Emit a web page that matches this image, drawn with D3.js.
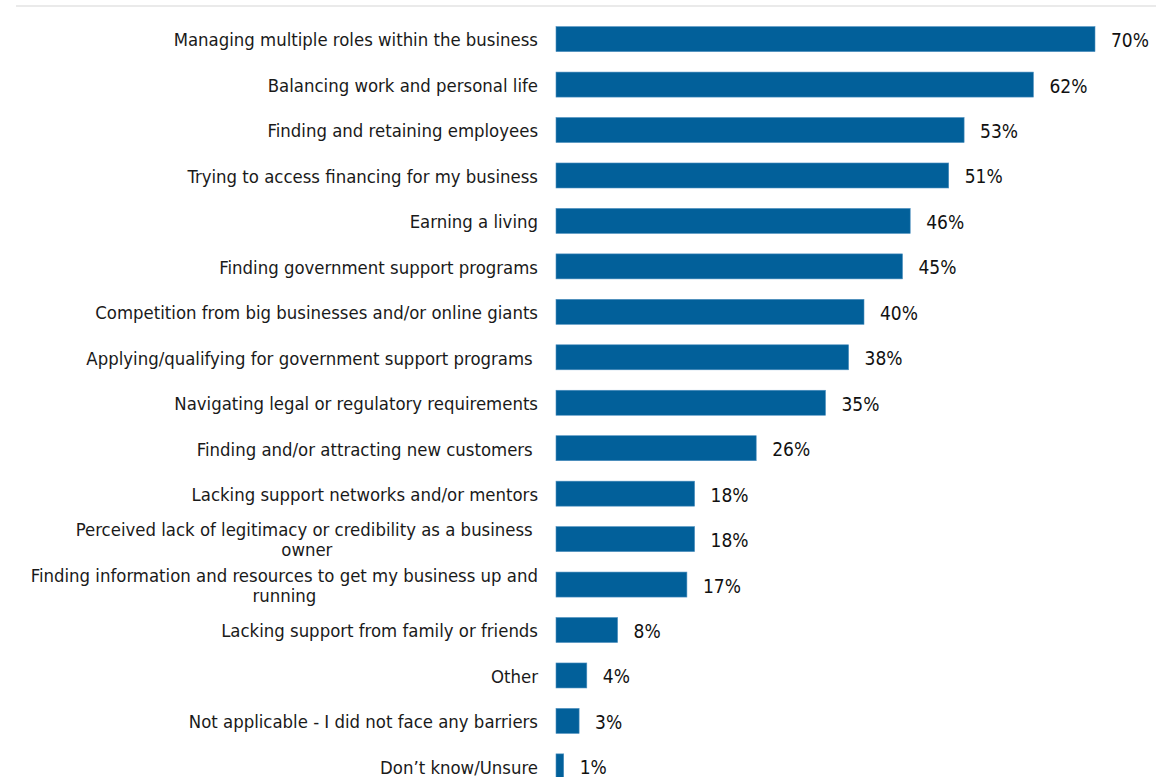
<!DOCTYPE html>
<html><head><meta charset="utf-8">
<script src="https://cdn.jsdelivr.net/npm/d3@7"></script>
<style>
  html, body { margin: 0; padding: 0; background: #ffffff; overflow: hidden; }
  svg { display: block; }
</style>
</head><body>
<svg id="chart" width="1156" height="777"></svg>
<script>
// Barriers faced by business owners (% of respondents)
const categories = [
  "Managing multiple roles within the business",
  "Balancing work and personal life",
  "Finding and retaining employees",
  "Trying to access financing for my business",
  "Earning a living",
  "Finding government support programs",
  "Competition from big businesses and/or online giants",
  "Applying/qualifying for government support programs ",
  "Navigating legal or regulatory requirements",
  "Finding and/or attracting new customers ",
  "Lacking support networks and/or mentors",
  "Perceived lack of legitimacy or credibility as a business \nowner",
  "Finding information and resources to get my business up and\nrunning",
  "Lacking support from family or friends",
  "Other",
  "Not applicable - I did not face any barriers",
  "Don\u2019t know/Unsure"
];
const values = [70, 62, 53, 51, 46, 45, 40, 38, 35, 26, 18, 18, 17, 8, 4, 3, 1];
const valueLabels = values.map(v => v + "%");

const width = 1156, height = 777;
const svg = d3.select("#chart");

const barColor = "#02609a";
const labelFont = "'DejaVu Sans Condensed', 'DejaVu Sans', sans-serif";

// Thin rule across the top
svg.append("line")
  .attr("x1", 16).attr("x2", width)
  .attr("y1", 6).attr("y2", 6)
  .attr("stroke", "#e3e3e3").attr("stroke-width", 1.5);

const x = d3.scaleLinear().domain([0, 70]).range([556, 1095]);
const y = d3.scaleBand()
  .domain(categories)
  .range([16.4, 789.1])
  .paddingInner(0.45)
  .paddingOuter(0.225);

// Bars
svg.append("g").selectAll("rect")
  .data(categories)
  .join("rect")
  .attr("x", x(0))
  .attr("y", d => y(d))
  .attr("width", (d, i) => x(values[i]) - x(0))
  .attr("height", y.bandwidth())
  .attr("fill", barColor)
  .attr("stroke", "#4d8fbf")
  .attr("stroke-width", 0.6);

// Category labels (right aligned; wrapped lines centred within their block)
const labelRight = 538;
const lineH = 20;
const labelG = svg.append("g")
  .style("font-family", labelFont)
  .style("font-size", "18.4px")
  .attr("fill", "#1a1a1a");

categories.forEach(cat => {
  const lines = cat.split("\n");
  const cy = y(cat) + y.bandwidth() / 2;
  const t = labelG.append("text").style("white-space", "pre");
  lines.forEach((ln, j) => {
    t.append("tspan").text(ln)
      .attr("y", cy + (j - (lines.length - 1) / 2) * lineH)
      .attr("dy", "0.4em");
  });
  if (lines.length === 1) {
    t.attr("text-anchor", "end");
    t.selectAll("tspan").attr("x", labelRight);
  } else {
    const spans = t.selectAll("tspan").nodes();
    const maxW = d3.max(spans, s => s.getComputedTextLength());
    const mid = labelRight - maxW / 2;
    t.attr("text-anchor", "middle");
    t.selectAll("tspan").attr("x", mid);
  }
});

// Value labels
svg.append("g").selectAll("text")
  .data(categories)
  .join("text")
  .attr("x", (d, i) => x(values[i]) + 16)
  .attr("y", d => y(d) + y.bandwidth() / 2)
  .attr("dy", "0.42em")
  .style("font-family", labelFont)
  .style("font-size", "19px")
  .attr("fill", "#111111")
  .text((d, i) => valueLabels[i]);
</script>
</body></html>
